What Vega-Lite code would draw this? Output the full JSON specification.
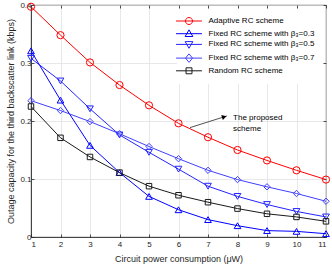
{
  "$schema": "https://vega.github.io/schema/vega-lite/v6.json",
  "width": 295,
  "height": 232,
  "autosize": {"type": "none"},
  "padding": {"left": 31, "top": 5, "right": 6, "bottom": 30},
  "background": "white",
  "config": {
    "font": "Liberation Sans",
    "view": {"stroke": "#262626", "strokeWidth": 0.8},
    "axis": {
      "domainColor": "#262626",
      "domainWidth": 0.8,
      "tickColor": "#262626",
      "tickWidth": 0.8,
      "tickSize": -3,
      "gridColor": "#dedede",
      "gridWidth": 0.7,
      "labelFont": "Liberation Sans",
      "labelFontSize": 8,
      "labelColor": "#262626",
      "titleFont": "Liberation Sans",
      "titleFontSize": 9,
      "titleFontWeight": "normal",
      "titleColor": "#262626"
    },
    "legend": {
      "orient": "none",
      "legendX": 146,
      "legendY": 4,
      "padding": 8,
      "fillColor": "white",
      "strokeColor": null,
      "labelFont": "Liberation Sans",
      "labelFontSize": 8,
      "labelColor": "#000000",
      "labelOffset": 15.5,
      "symbolSize": 49,
      "rowPadding": 0.7,
      "symbolStrokeWidth": 1,
      "symbolOpacity": 1,
      "symbolFillColor": "transparent"
    }
  },
  "datasets": {
    "curves": [
      {"x": 1, "y": 0.397, "s": "Adaptive RC scheme"},
      {"x": 2, "y": 0.348, "s": "Adaptive RC scheme"},
      {"x": 3, "y": 0.301, "s": "Adaptive RC scheme"},
      {"x": 4, "y": 0.262, "s": "Adaptive RC scheme"},
      {"x": 5, "y": 0.227, "s": "Adaptive RC scheme"},
      {"x": 6, "y": 0.196, "s": "Adaptive RC scheme"},
      {"x": 7, "y": 0.172, "s": "Adaptive RC scheme"},
      {"x": 8, "y": 0.150, "s": "Adaptive RC scheme"},
      {"x": 9, "y": 0.132, "s": "Adaptive RC scheme"},
      {"x": 10, "y": 0.115, "s": "Adaptive RC scheme"},
      {"x": 11, "y": 0.099, "s": "Adaptive RC scheme"},
      {"x": 1, "y": 0.321, "s": "Fixed RC scheme with β₃=0.3"},
      {"x": 2, "y": 0.236, "s": "Fixed RC scheme with β₃=0.3"},
      {"x": 3, "y": 0.158, "s": "Fixed RC scheme with β₃=0.3"},
      {"x": 4, "y": 0.111, "s": "Fixed RC scheme with β₃=0.3"},
      {"x": 5, "y": 0.070, "s": "Fixed RC scheme with β₃=0.3"},
      {"x": 6, "y": 0.047, "s": "Fixed RC scheme with β₃=0.3"},
      {"x": 7, "y": 0.030, "s": "Fixed RC scheme with β₃=0.3"},
      {"x": 8, "y": 0.0195, "s": "Fixed RC scheme with β₃=0.3"},
      {"x": 9, "y": 0.011, "s": "Fixed RC scheme with β₃=0.3"},
      {"x": 10, "y": 0.0097, "s": "Fixed RC scheme with β₃=0.3"},
      {"x": 11, "y": 0.0057, "s": "Fixed RC scheme with β₃=0.3"},
      {"x": 1, "y": 0.308, "s": "Fixed RC scheme with β₃=0.5"},
      {"x": 2, "y": 0.269, "s": "Fixed RC scheme with β₃=0.5"},
      {"x": 3, "y": 0.221, "s": "Fixed RC scheme with β₃=0.5"},
      {"x": 4, "y": 0.176, "s": "Fixed RC scheme with β₃=0.5"},
      {"x": 5, "y": 0.146, "s": "Fixed RC scheme with β₃=0.5"},
      {"x": 6, "y": 0.117, "s": "Fixed RC scheme with β₃=0.5"},
      {"x": 7, "y": 0.0876, "s": "Fixed RC scheme with β₃=0.5"},
      {"x": 8, "y": 0.070, "s": "Fixed RC scheme with β₃=0.5"},
      {"x": 9, "y": 0.056, "s": "Fixed RC scheme with β₃=0.5"},
      {"x": 10, "y": 0.044, "s": "Fixed RC scheme with β₃=0.5"},
      {"x": 11, "y": 0.0346, "s": "Fixed RC scheme with β₃=0.5"},
      {"x": 1, "y": 0.235, "s": "Fixed RC scheme with β₃=0.7"},
      {"x": 2, "y": 0.218, "s": "Fixed RC scheme with β₃=0.7"},
      {"x": 3, "y": 0.199, "s": "Fixed RC scheme with β₃=0.7"},
      {"x": 4, "y": 0.178, "s": "Fixed RC scheme with β₃=0.7"},
      {"x": 5, "y": 0.156, "s": "Fixed RC scheme with β₃=0.7"},
      {"x": 6, "y": 0.135, "s": "Fixed RC scheme with β₃=0.7"},
      {"x": 7, "y": 0.115, "s": "Fixed RC scheme with β₃=0.7"},
      {"x": 8, "y": 0.099, "s": "Fixed RC scheme with β₃=0.7"},
      {"x": 9, "y": 0.0865, "s": "Fixed RC scheme with β₃=0.7"},
      {"x": 10, "y": 0.075, "s": "Fixed RC scheme with β₃=0.7"},
      {"x": 11, "y": 0.0616, "s": "Fixed RC scheme with β₃=0.7"},
      {"x": 1, "y": 0.225, "s": "Random RC scheme"},
      {"x": 2, "y": 0.171, "s": "Random RC scheme"},
      {"x": 3, "y": 0.138, "s": "Random RC scheme"},
      {"x": 4, "y": 0.111, "s": "Random RC scheme"},
      {"x": 5, "y": 0.0876, "s": "Random RC scheme"},
      {"x": 6, "y": 0.072, "s": "Random RC scheme"},
      {"x": 7, "y": 0.060, "s": "Random RC scheme"},
      {"x": 8, "y": 0.049, "s": "Random RC scheme"},
      {"x": 9, "y": 0.040, "s": "Random RC scheme"},
      {"x": 10, "y": 0.0346, "s": "Random RC scheme"},
      {"x": 11, "y": 0.027, "s": "Random RC scheme"}
    ],
    "arrow": [{"x": 6.39, "y": 0.1886, "x2": 7.64, "y2": 0.2087, "hx": 7.55, "hy": 0.2072}],
    "note": [{"x": 7.85, "y": 0.2055, "label": "The proposed\nscheme"}]
  },
  "layer": [
    {
      "data": {"name": "curves"},
      "encoding": {
        "x": {
          "field": "x", "type": "quantitative",
          "scale": {"domain": [1, 11], "nice": false, "zero": false},
          "axis": {"values": [1,2,3,4,5,6,7,8,9,10,11], "title": "Circuit power consumption (μW)", "labelPadding": 6, "titlePadding": 6}
        },
        "y": {
          "field": "y", "type": "quantitative",
          "scale": {"domain": [0, 0.4], "nice": false, "zero": false},
          "axis": {"values": [0, 0.1, 0.2, 0.3, 0.4], "format": "~g", "title": "Outage capacity for the third backscatter link (kbps)", "labelPadding": 3, "titlePadding": 4}
        },
        "color": {
          "field": "s", "type": "nominal",
          "scale": {
            "domain": ["Adaptive RC scheme", "Fixed RC scheme with β₃=0.3", "Fixed RC scheme with β₃=0.5", "Fixed RC scheme with β₃=0.7", "Random RC scheme"],
            "range": ["#ff0000", "#0000ff", "#2424ff", "#4040ff", "#1a1a1a"]
          },
          "legend": {"title": null}
        }
      },
      "layer": [
        {"mark": {"type": "line", "strokeWidth": 1}},
        {
          "transform": [{"filter": {"field": "s", "equal": "Adaptive RC scheme"}}],
          "mark": {"type": "point", "shape": "circle", "filled": false, "strokeWidth": 1, "opacity": 1, "size": 52}
        },
        {
          "transform": [{"filter": {"field": "s", "equal": "Fixed RC scheme with β₃=0.3"}}],
          "mark": {"type": "point", "shape": "triangle-up", "filled": false, "strokeWidth": 1, "opacity": 1, "size": 45}
        },
        {
          "transform": [{"filter": {"field": "s", "equal": "Fixed RC scheme with β₃=0.5"}}],
          "mark": {"type": "point", "shape": "triangle-down", "filled": false, "strokeWidth": 1, "opacity": 1, "size": 45}
        },
        {
          "transform": [{"filter": {"field": "s", "equal": "Fixed RC scheme with β₃=0.7"}}],
          "mark": {"type": "point", "shape": "diamond", "filled": false, "strokeWidth": 1, "opacity": 1, "size": 40}
        },
        {
          "transform": [{"filter": {"field": "s", "equal": "Random RC scheme"}}],
          "mark": {"type": "point", "shape": "square", "filled": false, "strokeWidth": 1, "opacity": 1, "size": 30}
        },
        {
          "mark": {"type": "point", "filled": false, "opacity": 0, "size": 49},
          "encoding": {
            "shape": {
              "field": "s", "type": "nominal",
              "scale": {
                "domain": ["Adaptive RC scheme", "Fixed RC scheme with β₃=0.3", "Fixed RC scheme with β₃=0.5", "Fixed RC scheme with β₃=0.7", "Random RC scheme"],
                "range": [
                  "M-3.7,0H3.7M-1,0A1,1,0,1,1,1,0A1,1,0,1,1,-1,0Z",
                  "M-3.7,0H3.7M0,-1.1L1.1,0.8L-1.1,0.8Z",
                  "M-3.7,0H3.7M0,1.1L1.1,-0.8L-1.1,-0.8Z",
                  "M-3.7,0H3.7M0,-1.2L1,0L0,1.2L-1,0Z",
                  "M-3.7,0H3.7M-0.85,-0.85H0.85V0.85H-0.85Z"
                ]
              },
              "legend": {"title": null}
            }
          }
        }
      ]
    },
    {
      "encoding": {
        "x": {
          "field": "x", "type": "quantitative",
          "scale": {"domain": [1, 11], "nice": false, "zero": false},
          "axis": {"orient": "top", "values": [1,2,3,4,5,6,7,8,9,10,11], "labels": false, "grid": false, "domain": false, "title": null}
        },
        "y": {
          "field": "y", "type": "quantitative",
          "scale": {"domain": [0, 0.4], "nice": false, "zero": false},
          "axis": {"orient": "right", "values": [0, 0.1, 0.2, 0.3, 0.4], "labels": false, "grid": false, "domain": false, "title": null}
        }
      },
      "layer": [
        {
          "data": {"name": "arrow"},
          "mark": {"type": "rule", "color": "#262626", "strokeWidth": 0.8},
          "encoding": {
            "x2": {"field": "x2"},
            "y2": {"field": "y2"}
          }
        },
        {
          "data": {"name": "arrow"},
          "mark": {"type": "point", "shape": "triangle-right", "size": 28, "angle": 342.5, "filled": true, "color": "#000000", "opacity": 1},
          "encoding": {
            "x": {"field": "hx", "type": "quantitative"},
            "y": {"field": "hy", "type": "quantitative"}
          }
        },
        {
          "data": {"name": "note"},
          "mark": {"type": "text", "align": "left", "baseline": "middle", "lineBreak": "\n", "fontSize": 8, "font": "Liberation Sans", "color": "#000000", "lineHeight": 11.5},
          "encoding": {
            "text": {"field": "label"}
          }
        }
      ]
    }
  ],
  "resolve": {"scale": {"x": "independent", "y": "independent"}}
}
